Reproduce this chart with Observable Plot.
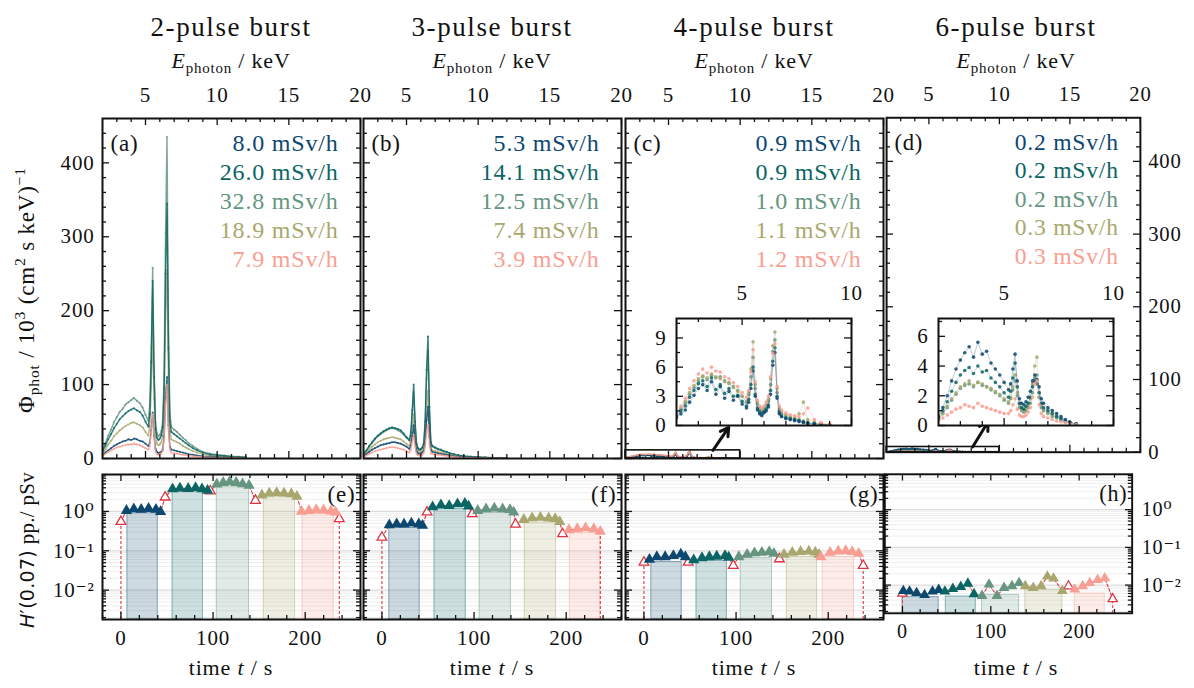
<!DOCTYPE html>
<html><head><meta charset="utf-8">
<script src="https://cdn.jsdelivr.net/npm/d3@7"></script>
<script src="https://cdn.jsdelivr.net/npm/@observablehq/plot@0.6"></script>
<style>
body{margin:0;background:#fff;}
#wrap{position:relative;width:1194px;height:688px;overflow:hidden;background:#fff;font-family:"P052","URW Palladio L","Palatino Linotype","Palatino","Liberation Serif","DejaVu Serif",serif;color:#111;}
.abs{position:absolute;}
.title{font-size:27px;letter-spacing:1.6px;text-align:center;width:258px;line-height:30px;white-space:nowrap;}
.xlab{font-size:22px;text-align:center;width:258px;line-height:24px;letter-spacing:0.8px;white-space:nowrap;}
.ylab{font-size:22px;white-space:nowrap;transform:rotate(-90deg);text-align:center;line-height:24px;letter-spacing:0.8px;}
.xlab sub,.ylab sub{font-size:0.68em;vertical-align:-0.35em;line-height:0;}
.xlab sup,.ylab sup{font-size:0.68em;vertical-align:0.55em;line-height:0;}
svg text{letter-spacing:0.8px;font-family:"P052","URW Palladio L","Palatino Linotype","Palatino","Liberation Serif","DejaVu Serif",serif;}
</style>
</head><body><div id="wrap"></div>
<script>
// ---------------- data ----------------
const titles = ["2-pulse burst", "3-pulse burst", "4-pulse burst", "6-pulse burst"];
const panelTopLabels = ["(a)", "(b)", "(c)", "(d)"];
const panelBotLabels = ["(e)", "(f)", "(g)", "(h)"];
const doseA = ["8.0 mSv/h", "26.0 mSv/h", "32.8 mSv/h", "18.9 mSv/h", "7.9 mSv/h"];
const doseB = ["5.3 mSv/h", "14.1 mSv/h", "12.5 mSv/h", "7.4 mSv/h", "3.9 mSv/h"];
const doseC = ["0.9 mSv/h", "0.9 mSv/h", "1.0 mSv/h", "1.1 mSv/h", "1.2 mSv/h"];
const doseD = ["0.2 mSv/h", "0.2 mSv/h", "0.2 mSv/h", "0.3 mSv/h", "0.3 mSv/h"];
const seriesColors = ["#0c4770", "#0b6565", "#669580", "#a8a86e", "#f99e92"];
const redColor = "#dc3545";

const energyTicks = [5, 10, 15, 20];
const fluxTicks = [0, 100, 200, 300, 400];
const timeTicks = [0, 100, 200];
const doseTicks = [1, 0.1, 0.01];
const doseTickLabels = ["10⁰", "10⁻¹", "10⁻²"];
const insetEnergyTicks = [5, 10];
const insetFluxTicksC = [0, 3, 6, 9];
const insetFluxTicksD = [0, 2, 4, 6];
const energyDomain = [2, 20], fluxDomain = [0, 460];
const timeDomain = [-20, 260], doseDomain = [0.00179, 8.7];
const insetEnergyDomain = [2, 10], insetFluxDomainC = [0, 11], insetFluxDomainD = [0, 7.2];
const insetArrow = [8.1, 9.2, 42];

// photon energy grid (keV)
const energy = [2.0,2.2,2.4,2.6,2.8,3.0,3.2,3.4,3.6,3.8,4.0,4.2,4.4,4.6,4.8,5.0,5.2,5.3,5.4,5.5,5.6,5.7,5.8,5.9,6.0,6.1,6.2,6.3,6.4,6.5,6.6,6.7,6.8,7.0,7.2,7.4,7.6,7.8,8.0,8.3,8.6,9.0,9.5,10.0,10.5,11.0,11.5,12.0];

// spectra, 10^3 /(cm2 s keV)
const specA1 = [4,8,11,14,17,19,21,23,24,26,25,27,26,24,23,20,17,21,38,62,30,13,9,7,8,9,12,30,82,110,45,16,12,11,10,9,8,7,6,5,4,3,2.5,2,1.5,1.2,1,0.8];
const specA2 = [10,17,26,33,41,47,53,57,61,64,66,68,65,63,58,50,43,60,130,240,110,40,28,25,27,31,42,95,250,345,150,50,36,33,30,27,24,21,18,14,11,8,5.5,4.5,3.5,2.5,2,1.5];
const specA3 = [12,21,31,39,49,56,63,67,73,76,79,82,78,75,69,59,51,72,150,258,125,49,34,30,32,37,50,115,305,435,185,62,43,39,36,32,28,25,21,17,13,9,6.5,5,4,3,2.5,2];
const specA4 = [7,12,19,24,30,34,38,41,44,46,48,49,47,45,42,36,31,44,95,175,80,30,20,18,19,22,30,70,190,255,110,37,26,24,22,20,17,15,13,10,8,6,4,3.2,2.5,1.8,1.4,1.1];
const specA5 = [3,6,9,11,13,15,16,17,18,19,19,20,19,18,16,14,12,17,35,60,28,9,6,5,6,7,10,25,72,100,40,12,8,7,6.5,6,5,4.5,4,3,2.5,2,1.5,1.2,1,0.8,0.6,0.5];

const specB1 = [3,6,9,12,14,16,18,19,20,21,22,22,21,20,18,16,13,17,30,45,22,10,7,6,7,8,10,22,52,70,30,11,9,8,7,6,5.5,5,4,3,2.5,2,1.5,1.1,0.9,0.7,0.5,0.4];
const specB2 = [6,11,17,22,27,31,34,37,39,41,42,41,40,38,34,29,25,35,65,100,50,20,14,12,13,15,20,50,120,165,70,22,17,15,13,12,10,9,7.5,6,4.5,3.5,2.5,2,1.5,1.2,0.9,0.7];
const specB3 = [6,10,16,21,26,30,33,36,38,40,41,40,38,36,32,28,24,32,60,90,45,19,13,11,12,14,19,45,108,145,62,21,16,14,12,11,9.5,8.5,7,5.5,4.5,3.2,2.4,1.8,1.4,1.1,0.8,0.6];
const specB4 = [4,8,12,16,19,22,24,26,27,28,29,28,27,26,23,20,17,23,42,60,30,13,9,8,9,10,13,32,72,92,40,14,11,10,9,8,7,6,5,4,3,2.3,1.7,1.3,1,0.8,0.6,0.5];
const specB5 = [2,4,6,8,10,11,12,13,14,15,15,15,14,13,12,10,8,12,22,32,16,6,4.5,4,4.5,5,7,16,35,45,20,7,6,5.5,5,4.5,4,3.5,3,2.3,1.8,1.4,1,0.8,0.6,0.5,0.4,0.3];

const specC1 = [0.8,1.2,1.6,2.4,3.1,3.8,4.2,3.6,4.5,3.2,4.0,2.8,3.5,2.6,3.0,2.2,1.8,2.4,3.8,5.6,3.0,1.6,1.2,1.0,1.3,1.5,1.9,3.2,6.2,7.5,2.8,1.2,0.9,0.7,0.6,0.5,0.4,0.3,0.2,0.15,0.1,0.05,null,null,null,null,null,null];
const specC2 = [1.0,1.5,2.0,2.9,3.6,4.3,4.6,4.0,4.9,3.7,4.2,3.3,3.8,3.0,3.1,2.5,2.0,2.7,4.2,6.0,3.2,1.8,1.4,1.2,1.4,1.7,2.1,3.6,6.6,8.0,3.0,1.4,1.0,0.8,0.7,0.6,0.5,0.35,0.25,0.2,0.12,0.06,null,null,null,null,null,null];
const specC3 = [1.1,1.7,2.3,3.2,3.9,4.6,5.0,4.7,5.2,4.9,5.0,4.6,4.4,4.0,3.6,3.0,2.4,3.2,5.0,7.0,3.8,2.2,1.7,1.5,1.7,2.0,2.5,4.2,7.6,8.8,3.4,1.6,1.2,1.0,0.8,0.7,0.6,0.45,0.3,0.22,0.15,0.08,null,null,null,null,null,null];
const specC4 = [1.2,1.8,2.5,3.4,4.1,4.8,5.1,4.9,5.3,5.0,4.8,4.5,4.3,3.9,3.5,3.0,2.5,3.4,5.8,8.6,4.2,2.4,1.8,1.6,1.8,2.1,2.7,4.8,8.2,9.6,3.8,1.8,1.4,1.1,0.9,0.8,1.2,2.4,0.6,0.35,0.2,0.1,null,null,null,null,null,null];
const specC5 = [1.3,2.0,2.8,3.8,4.6,5.3,5.8,5.4,6.0,5.6,5.5,5.0,4.8,4.4,4.0,3.4,2.9,3.6,5.5,7.8,4.5,2.6,2.0,1.8,2.0,2.4,3.0,5.0,7.4,8.4,4.0,2.0,1.6,1.3,1.1,1.0,0.9,1.2,1.8,0.6,0.3,0.15,null,null,null,null,null,null];

const specD1 = [0.6,1.2,2.0,3.0,3.8,4.4,4.9,5.3,4.6,5.6,4.8,5.0,4.2,3.8,3.4,2.9,2.4,2.8,3.8,4.8,3.0,1.8,1.5,1.4,1.6,1.9,2.3,3.0,3.4,3.1,2.6,1.8,1.5,1.2,1.0,0.8,0.6,0.4,0.25,0.12,null,null,null,null,null,null,null,null];
const specD2 = [0.5,1.0,1.6,2.3,2.9,3.4,3.7,3.9,3.5,4.0,3.6,3.7,3.2,2.9,2.6,2.2,1.9,2.3,3.2,4.2,2.6,1.5,1.2,1.1,1.3,1.5,1.9,2.6,3.0,2.8,2.2,1.5,1.2,1.0,0.8,0.6,0.45,0.3,0.2,0.1,null,null,null,null,null,null,null,null];
const specD3 = [0.4,0.8,1.2,1.7,2.1,2.5,2.7,2.8,2.6,2.9,2.7,2.6,2.4,2.2,2.0,1.7,1.5,1.8,2.4,3.0,2.0,1.2,1.0,0.9,1.0,1.2,1.5,2.2,3.2,3.4,1.9,1.2,1.0,0.8,0.6,0.5,0.35,0.25,0.15,0.08,null,null,null,null,null,null,null,null];
const specD4 = [0.4,0.8,1.3,1.8,2.2,2.6,2.8,3.0,2.7,2.9,2.8,2.6,2.5,2.3,2.1,1.8,1.6,1.9,2.6,3.4,2.2,1.4,1.1,1.0,1.2,1.4,1.8,2.8,4.0,4.6,2.2,1.4,1.1,0.9,0.7,0.6,0.45,0.3,0.2,0.1,null,null,null,null,null,null,null,null];
const specD5 = [0.3,0.5,0.7,0.9,1.1,1.2,1.4,1.3,1.2,1.5,1.3,1.2,1.1,1.0,0.9,0.8,0.8,1.0,1.4,1.8,1.1,0.7,0.6,0.6,0.7,0.9,1.2,1.9,2.8,3.0,1.4,0.8,0.6,0.5,0.4,0.3,0.25,0.2,0.12,0.06,null,null,null,null,null,null,null,null];

// H'(0.07) per pulse (pSv) vs time (s)
const pulseT_e = [[6,14,22,30,38,43],[56,64,73,81,88,94],[104,111,118,125,132,139],[153,161,169,177,185,191],[196,204,212,220,228,233]];
const pulseH_e = [[1.05,1.15,1.12,1.18,1.12,0.98],[3.7,3.9,3.8,4.0,3.7,3.4],[4.9,5.4,5.7,5.4,5.0,4.6],[2.6,2.9,3.0,2.9,2.8,2.4],[1.0,1.05,1.1,1.08,1.02,0.95]];
const barT1_e = [7,56,104,155,197], barT2_e = [40,89,139,189,231], barH_e = [0.9,3.2,4.3,2.3,0.85];
const openT_e = [0,48,97,146,237], openH_e = [0.55,2.3,3.3,1.9,0.65];

const pulseT_f = [[8,16,24,32,40,44],[55,64,73,82,90,94],[104,113,122,131,139,143],[154,163,172,181,188,193],[203,212,221,230,237]];
const pulseH_f = [[0.45,0.48,0.47,0.5,0.48,0.44],[1.3,1.45,1.4,1.55,1.6,1.35],[1.05,1.15,1.2,1.15,1.1,0.95],[0.62,0.68,0.7,0.67,0.65,0.55],[0.34,0.36,0.38,0.36,0.31]];
const barT1_f = [8,57,106,155,204], barT2_f = [41,91,140,189,237], barH_f = [0.38,1.15,0.92,0.52,0.28];
const openT_f = [0,49,98,145,196], openH_f = [0.22,0.96,0.87,0.47,0.27];

const pulseT_g = [[6,14,23,32,40,45],[54,63,71,79,88,92],[103,112,120,128,136,141],[152,161,170,179,186,190],[192,202,211,219,226,233]];
const pulseH_g = [[0.06,0.07,0.07,0.075,0.082,0.07],[0.058,0.066,0.07,0.072,0.075,0.068],[0.07,0.08,0.088,0.09,0.095,0.085],[0.08,0.09,0.095,0.097,0.092,0.08],[0.07,0.09,0.098,0.1,0.095,0.085]];
const barT1_g = [8,57,105,155,194], barT2_g = [41,90,139,188,228], barH_g = [0.052,0.055,0.065,0.07,0.07];
const openT_g = [0,48,97,147,238], openH_g = [0.051,0.051,0.042,0.062,0.042];

const pulseT_h = [[1,8,16,25,34,41],[48,57,66,74,81],[90,98,107,115,124,132],[139,148,157,164,171,181],[195,204,212,221,229]];
const pulseH_h = [[0.007,0.0068,0.0062,0.0055,0.0068,0.0075],[0.0068,0.008,0.009,0.011,0.0058],[0.0052,0.0104,0.0052,0.0085,0.0094,0.0114],[0.0094,0.0085,0.0094,0.017,0.015,0.007],[0.0077,0.0094,0.0114,0.0138,0.0153]];
const barT1_h = [0,49,90,139,195], barT2_h = [41,83,132,181,229], barH_h = [0.0048,0.005,0.0055,0.0075,0.006];
const openT_h = [0,188,238], openH_h = [0.006,0.0094,0.0043];

// ---------------- assembly ----------------
const spectra = [[specA1,specA2,specA3,specA4,specA5],[specB1,specB2,specB3,specB4,specB5],[specC1,specC2,specC3,specC4,specC5],[specD1,specD2,specD3,specD4,specD5]];
const doses = [doseA, doseB, doseC, doseD];
const pulses = [[pulseT_e,pulseH_e],[pulseT_f,pulseH_f],[pulseT_g,pulseH_g],[pulseT_h,pulseH_h]];
const bars = [[barT1_e,barT2_e,barH_e],[barT1_f,barT2_f,barH_f],[barT1_g,barT2_g,barH_g],[barT1_h,barT2_h,barH_h]];
const opens = [[openT_e,openH_e],[openT_f,openH_f],[openT_g,openH_g],[openT_h,openH_h]];
const drawOrder = [2, 3, 1, 0, 4];

const colLeft = [102, 363, 625, 887];
const panelW = 258, topY = 118, topH = 340, botY = 474, botH = 145;
const insetOffX = 51, insetY = 318, insetW = 175, insetH = 107;
const serif = "P052, 'URW Palladio L', 'Palatino Linotype', Palatino, 'Liberation Serif', 'DejaVu Serif', serif";

const wrap = document.getElementById("wrap");
function place(node, left, top) {
  const d = document.createElement("div");
  d.className = "abs"; d.style.left = left + "px"; d.style.top = top + "px";
  d.appendChild(node); wrap.appendChild(d);
}
function htmlDiv(inner, cls, left, top, extra) {
  const d = document.createElement("div");
  d.className = "abs " + cls; d.innerHTML = inner;
  d.style.left = left + "px"; d.style.top = top + "px";
  if (extra) Object.assign(d.style, extra);
  wrap.appendChild(d); return d;
}
const svgStyle = {fontFamily: serif, fontSize: "20px", background: "transparent", overflow: "visible", color: "#111"};

function tickMarks(xMaj, xMin, yMaj, yMin, W, H, lMaj = 7, lMin = 4) {
  const st = {stroke: "#111", strokeWidth: 1.3};
  return [
    Plot.ruleX(xMaj, {...st, insetTop: H - lMaj}), Plot.ruleX(xMaj, {...st, insetBottom: H - lMaj}),
    Plot.ruleX(xMin, {...st, insetTop: H - lMin}), Plot.ruleX(xMin, {...st, insetBottom: H - lMin}),
    Plot.ruleY(yMaj, {...st, insetRight: W - lMaj}), Plot.ruleY(yMaj, {...st, insetLeft: W - lMaj}),
    Plot.ruleY(yMin, {...st, insetRight: W - lMin}), Plot.ruleY(yMin, {...st, insetLeft: W - lMin})
  ];
}

const energyMinor = d3.range(3, 20).filter(v => v % 5 !== 0);
const fluxMinor = d3.range(20, 460, 20).filter(v => v % 100 !== 0);
const timeMinor = d3.range(-20, 261, 20).filter(v => v % 100 !== 0);
const doseMinor = [];
for (const dec of [0.001, 0.01, 0.1, 1]) for (let m = 2; m <= 9; m++) { const v = m * dec; if (v > doseDomain[0] && v < doseDomain[1]) doseMinor.push(v); }

// ---- top panels ----
function topPanel(c) {
  const mL = 55, mR = 55, mT = 45, mB = 5;
  const W = panelW, H = topH;
  const marks = [];
  for (const s of drawOrder) {
    const rows = energy.map((e, k) => ({e, v: spectra[c][s][k]}));
    marks.push(Plot.line(rows, {x: "e", y: "v", stroke: seriesColors[s], strokeWidth: 1.4, strokeOpacity: 0.85, clip: true}));
    marks.push(Plot.dot(rows.filter(d => d.v != null), {x: "e", y: "v", r: 1.1, fill: seriesColors[s], fillOpacity: 0.6, clip: true}));
  }
  if (c >= 2) {
    const fd = c === 2 ? insetFluxDomainC : insetFluxDomainD;
    marks.push(Plot.rect([0], {x1: insetEnergyDomain[0], x2: insetEnergyDomain[1], y1: fd[0], y2: fd[1], stroke: "#111", strokeWidth: 1.6, fill: "none"}));
    marks.push(Plot.arrow([0], {x1: insetArrow[0], y1: fd[1], x2: insetArrow[1], y2: insetArrow[2], stroke: "#111", strokeWidth: 3, headLength: 7}));
  }
  marks.push(Plot.frame({stroke: "#111", strokeWidth: 2}));
  marks.push(...tickMarks(energyTicks, energyMinor, fluxTicks, fluxMinor, W, H));
  marks.push(Plot.axisX({anchor: "top", ticks: energyTicks, tickSize: 0, tickPadding: 17, label: null, fontSize: 21}));
  if (c === 0) marks.push(Plot.axisY({anchor: "left", ticks: fluxTicks, tickSize: 0, tickPadding: 8, label: null, fontSize: 21}));
  if (c === 3) marks.push(Plot.axisY({anchor: "right", ticks: fluxTicks, tickSize: 0, tickPadding: 8, label: null, fontSize: 21}));
  marks.push(Plot.text([panelTopLabels[c]], {text: d => d, frameAnchor: "top-left", dx: 8, dy: 25, lineAnchor: "middle", textAnchor: "start", fontSize: 23, fill: "#111"}));
  doses[c].forEach((lab, k) => {
    marks.push(Plot.text([lab], {text: d => d, frameAnchor: "top-right", dx: -22, dy: 25 + 29 * k, lineAnchor: "middle", textAnchor: "end", fontSize: 24, fill: seriesColors[k]}));
  });
  const svg = Plot.plot({
    width: W + mL + mR, height: H + mT + mB,
    marginLeft: mL, marginRight: mR, marginTop: mT, marginBottom: mB,
    x: {domain: energyDomain, axis: null, label: null},
    y: {domain: fluxDomain, axis: null, label: null},
    style: svgStyle, marks
  });
  place(svg, colLeft[c] - mL, topY - mT);
}

// ---- insets ----
function insetPanel(c) {
  const mL = 40, mR = 20, mT = 40, mB = 10;
  const W = insetW, H = insetH;
  const fd = c === 2 ? insetFluxDomainC : insetFluxDomainD;
  const yt = c === 2 ? insetFluxTicksC : insetFluxTicksD;
  const yMinor = c === 2 ? [1.5, 4.5, 7.5, 10.5] : [1, 3, 5, 7];
  const marks = [Plot.frame({fill: "white", stroke: null})];
  for (const s of drawOrder) {
    const rows = energy.map((e, k) => ({e, v: spectra[c][s][k]})).filter(d => d.v != null);
    marks.push(Plot.line(rows, {x: "e", y: "v", stroke: seriesColors[s], strokeWidth: 0.8, strokeOpacity: 0.35, clip: true}));
    marks.push(Plot.dot(rows, {x: "e", y: "v", r: 1.8, fill: seriesColors[s], fillOpacity: 0.85, clip: true}));
  }
  marks.push(Plot.frame({stroke: "#111", strokeWidth: 2}));
  marks.push(...tickMarks(insetEnergyTicks, [3, 4, 6, 7, 8, 9], yt, yMinor, W, H, 7, 4));
  marks.push(Plot.axisX({anchor: "top", ticks: insetEnergyTicks, tickSize: 0, tickPadding: 19, label: null, fontSize: 21}));
  marks.push(Plot.axisY({anchor: "left", ticks: yt, tickSize: 0, tickPadding: 10, label: null, fontSize: 21}));
  const svg = Plot.plot({
    width: W + mL + mR, height: H + mT + mB,
    marginLeft: mL, marginRight: mR, marginTop: mT, marginBottom: mB,
    x: {domain: insetEnergyDomain, axis: null, label: null},
    y: {domain: fd, axis: null, label: null},
    style: svgStyle, marks
  });
  place(svg, colLeft[c] + insetOffX - mL, insetY - mT);
}

// ---- bottom panels ----
function botPanel(c) {
  const mL = 65, mR = 65, mT = 5, mB = 40;
  const W = panelW, H = botH;
  const [pt, ph] = pulses[c];
  const [b1, b2, bh] = bars[c];
  const [ot, oh] = opens[c];
  const marks = [];
  marks.push(Plot.ruleY(doseMinor, {stroke: "#eeeeee", strokeWidth: 1}));
  marks.push(Plot.ruleY(doseTicks, {stroke: "#dcdcdc", strokeWidth: 1.2}));
  for (let s = 0; s < 5; s++) {
    marks.push(Plot.rect([0], {x1: b1[s], x2: b2[s], y1: doseDomain[0], y2: bh[s], fill: seriesColors[s], fillOpacity: 0.2, stroke: seriesColors[s], strokeOpacity: 0.45, strokeWidth: 1}));
  }
  const path = [];
  ot.forEach((t, k) => path.push({t, v: oh[k]}));
  pt.forEach((arr, s) => arr.forEach((t, k) => path.push({t, v: ph[s][k]})));
  path.sort((a, b) => a.t - b.t);
  const ends = [path[0], path[path.length - 1]];
  marks.push(Plot.line(path, {x: "t", y: "v", stroke: redColor, strokeWidth: 1.1, strokeDasharray: "3,2"}));
  marks.push(Plot.ruleX(ends, {x: "t", y1: doseDomain[0], y2: "v", stroke: redColor, strokeWidth: 1.1, strokeDasharray: "3,2"}));
  marks.push(Plot.dot(ot.map((t, k) => ({t, v: oh[k]})), {x: "t", y: "v", symbol: "triangle", r: 3.6, stroke: redColor, fill: "white", strokeWidth: 1.3}));
  for (let s = 0; s < 5; s++) {
    marks.push(Plot.dot(pt[s].map((t, k) => ({t, v: ph[s][k]})), {x: "t", y: "v", symbol: "triangle", r: 4.2, fill: seriesColors[s], stroke: null}));
  }
  marks.push(Plot.frame({stroke: "#111", strokeWidth: 2}));
  marks.push(...tickMarks(timeTicks, timeMinor, doseTicks, doseMinor, W, H));
  marks.push(Plot.axisX({anchor: "bottom", ticks: timeTicks, tickSize: 0, tickPadding: 11, label: null, fontSize: 21}));
  const fmt = d => doseTickLabels[doseTicks.indexOf(d)];
  if (c === 0) marks.push(Plot.axisY({anchor: "left", ticks: doseTicks, tickFormat: fmt, tickSize: 0, tickPadding: 8, label: null, fontSize: 21}));
  if (c === 3) marks.push(Plot.axisY({anchor: "right", ticks: doseTicks, tickFormat: fmt, tickSize: 0, tickPadding: 10, label: null, fontSize: 21}));
  marks.push(Plot.text([panelBotLabels[c]], {text: d => d, frameAnchor: "top-right", dx: -5, dy: 20, lineAnchor: "middle", textAnchor: "end", fontSize: 23, fill: "#111"}));
  const svg = Plot.plot({
    width: W + mL + mR, height: H + mT + mB,
    marginLeft: mL, marginRight: mR, marginTop: mT, marginBottom: mB,
    x: {domain: timeDomain, axis: null, label: null},
    y: {type: "log", domain: doseDomain, axis: null, label: null},
    style: svgStyle, marks
  });
  place(svg, colLeft[c] - mL, botY - mT);
}

for (let c = 0; c < 4; c++) {
  topPanel(c);
  botPanel(c);
  htmlDiv(titles[c], "title", colLeft[c], 12);
  htmlDiv("<i>E</i><sub>photon</sub> / keV", "xlab", colLeft[c], 49);
  htmlDiv("time <i>t</i> / s", "xlab", colLeft[c], 656);
}
insetPanel(2);
insetPanel(3);

// rotated y labels
htmlDiv("Φ<sub>phot</sub> / 10<sup>3</sup> (cm<sup>2</sup> s keV)<sup>−1</sup>", "ylab", 27 - 170, 290 - 12, {width: "340px", fontSize: "23px"});
htmlDiv("<span style=\"font-family:'DejaVu Sans',sans-serif;font-size:19px\"><i>H</i>′(0.07)</span> pp./ pSv", "ylab", 27 - 110, 550 - 12, {width: "220px", fontSize: "21px", letterSpacing: "0.3px"});
</script>
</body></html>
